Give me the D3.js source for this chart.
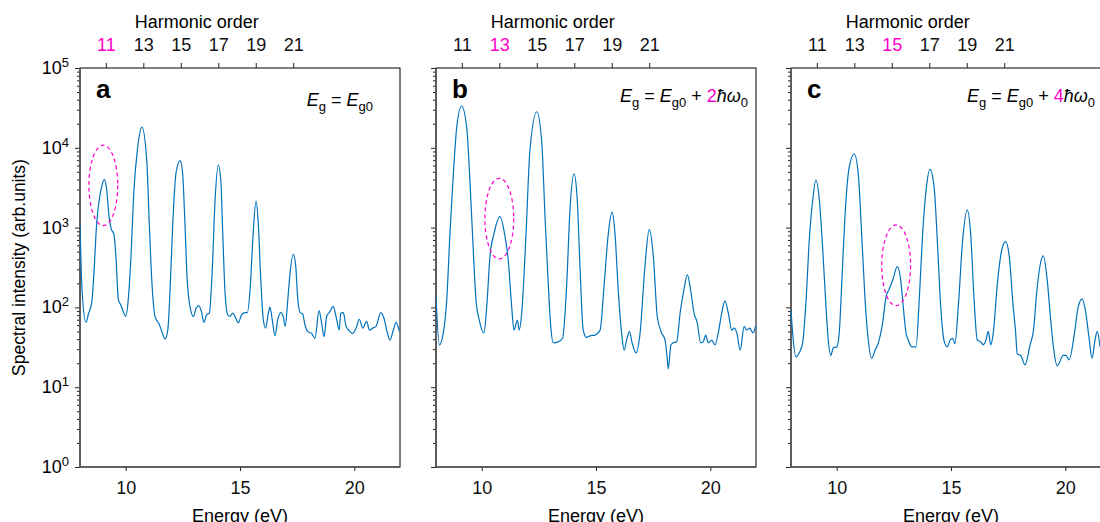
<!DOCTYPE html>
<html>
<head>
<meta charset="utf-8">
<script src="https://cdn.jsdelivr.net/npm/d3@7/dist/d3.min.js"></script>
<style>
  body { margin: 0; background: #fff; }
  svg { font-family: "Liberation Sans", Arial, Helvetica, sans-serif; }
</style>
</head>
<body>
<svg id="chart" width="1100" height="522"></svg>
<script>
// spectra (energy in eV, intensity in arb. units)
const energyA = [8.00,8.09,8.26,8.38,8.51,8.61,8.73,8.84,8.95,9.06,9.17,9.27,9.36,9.49,9.58,9.68,9.78,9.89,10.00,10.11,
  10.23,10.36,10.51,10.71,10.92,11.03,11.14,11.28,11.47,11.60,11.72,11.84,11.94,12.06,12.20,12.38,12.49,12.59,12.69,12.81,
  12.96,13.08,13.19,13.31,13.42,13.54,13.66,13.78,13.91,14.05,14.16,14.24,14.34,14.46,14.56,14.68,14.78,14.93,15.07,15.22,
  15.32,15.44,15.56,15.70,15.80,15.91,16.02,16.12,16.24,16.31,16.41,16.53,16.65,16.78,16.89,16.98,17.09,17.19,17.33,17.44,
  17.52,17.63,17.74,17.84,17.96,18.14,18.28,18.46,18.57,18.68,18.79,18.94,19.08,19.23,19.34,19.41,19.52,19.64,19.78,19.93,
  20.08,20.22,20.37,20.54,20.66,20.81,20.95,21.16,21.30,21.42,21.56,21.71,21.83,21.97];
const intensityA = [1080,165,65,85,113,270,1140,2220,3260,4030,2960,1370,980,810,393,124,108,89,77,124,
  432,2960,9380,18200,7030,1140,220,77,61,48,40,52,165,1140,4830,6890,4790,1140,220,103,
  77,98,105,89,65,81,85,270,2220,6090,3950,933,165,81,77,85,77,64,81,86,
  86,165,700,2150,1130,220,70,55,85,101,70,44,70,86,77,58,124,267,467,324,
  137,86,83,61,50,47,41,91,64,43,77,89,103,70,52,85,86,58,51,47,
  55,71,55,67,52,55,58,86,73,52,39,52,65,50];

const energyB = [8.00,8.15,8.32,8.47,8.61,8.76,8.91,9.12,9.34,9.49,9.63,9.75,9.89,10.10,10.22,10.36,10.54,10.80,11.02,11.16,
  11.31,11.41,11.56,11.64,11.75,11.94,12.11,12.41,12.62,12.77,12.91,13.02,13.13,13.35,13.54,13.72,13.86,14.04,14.18,14.30,
  14.44,14.59,14.74,14.96,15.18,15.35,15.54,15.70,15.83,15.98,16.12,16.23,16.34,16.46,16.58,16.75,16.93,17.14,17.33,17.51,
  17.68,17.87,18.02,18.11,18.16,18.28,18.38,18.53,18.68,18.82,19.00,19.14,19.29,19.43,19.58,19.69,19.80,19.91,20.06,20.21,
  20.35,20.50,20.64,20.79,20.94,21.04,21.16,21.31,21.48,21.60,21.72,21.87,21.98];
const intensityB = [137,34,48,124,849,4790,18400,33400,18400,3590,524,124,70,48,103,432,849,1370,769,393,
  103,52,69,52,85,849,9380,28300,12500,1370,200,58,36,37,41,200,1660,4700,2220,324,
  52,42,44,45,52,182,849,1560,849,151,48,29,39,50,36,27,48,324,952,432,
  77,48,39,24,17,34,36,37,85,151,255,165,85,64,36,37,45,36,39,34,
  48,85,121,85,52,55,48,29,58,52,55,48,58];

const energyC = [8.00,8.07,8.22,8.36,8.51,8.66,8.80,8.95,9.09,9.24,9.39,9.53,9.63,9.74,9.85,10.00,10.11,10.22,10.36,10.55,
  10.77,10.94,11.09,11.24,11.38,11.53,11.68,11.82,12.01,12.16,12.30,12.45,12.65,12.80,12.91,13.03,13.13,13.28,13.47,13.61,
  13.76,13.91,14.08,14.26,14.40,14.55,14.69,14.84,14.96,15.07,15.17,15.32,15.51,15.71,15.86,16.01,16.15,16.30,16.41,16.53,
  16.63,16.74,16.85,17.03,17.22,17.39,17.55,17.72,17.82,17.90,18.05,18.24,18.46,18.61,18.76,18.90,19.04,19.21,19.36,19.48,
  19.65,19.91,20.03,20.17,20.38,20.57,20.74,20.90,21.05,21.17,21.30,21.40,21.52];
const intensityC = [93,48,24,27,36,124,700,2220,3950,2220,524,103,39,25,31,32,48,200,1370,5800,
  8360,4790,849,124,39,23,29,36,64,137,170,220,324,220,103,48,39,32,32,124,
  849,2960,5380,3260,700,103,39,32,39,41,35,103,700,1660,849,124,39,37,34,39,
  50,34,48,200,524,666,432,103,52,26,25,19,34,52,165,340,441,220,70,32,
  18.5,25,25,22,43,103,128,85,39,23,39,50,32];

// axes
const energyDomain = [8, 22];
const energyTicks = [10, 15, 20];
const intensityDomain = [1, 1e5];
const decadeExponents = [0, 1, 2, 3, 4, 5];
const harmonicDomain = [9.62, 26.7];
const harmonicOrders = [11, 13, 15, 17, 19, 21];
const highlightedOrder = [11, 13, 15];
const gapSteps = ["0", "2", "4"];

// dashed rings around the suppressed harmonic
const ringEnergy = [9.02, 10.77, 12.6];
const ringLow = [1060, 405, 105];
const ringHigh = [10800, 4150, 1080];
const ringHalfWidth = 0.63;

const lineColor = "#0072BD";
const pink = "#ff00cc";

const panelLeft = [80, 436, 791];
const panelTop = 68, panelW = 320, panelH = 399;
const letters = ["a", "b", "c"];
const series = [[energyA, intensityA], [energyB, intensityB], [energyC, intensityC]];
const labelEnd = [293, 312, 304];
const labelBase = [38, 34, 34];

const svg = d3.select("#chart");

const x = d3.scaleLinear().domain(energyDomain).range([0, panelW]);
const y = d3.scaleLog().domain(intensityDomain).range([panelH, 0]);
const xTop = d3.scaleLinear().domain(harmonicDomain).range([0, panelW]);

const minorTicks = [];
decadeExponents.slice(0, -1).forEach(e => {
  for (let k = 2; k < 10; k++) minorTicks.push(k * Math.pow(10, e));
});

function styleAxis(g) {
  g.attr("font-size", 18).attr("font-family", null);
  g.select(".domain").remove();
  g.selectAll("line").attr("stroke", "#222");
  g.selectAll("text").attr("fill", "#111");
}

series.forEach((s, i) => {
  const g = svg.append("g").attr("transform", `translate(${panelLeft[i]},${panelTop})`);
  const data = s[0].map((e, j) => [e, s[1][j]]);

  g.append("clipPath").attr("id", `clip-${i}`)
    .append("rect").attr("width", panelW).attr("height", panelH);

  // frame
  g.append("rect")
    .attr("width", panelW).attr("height", panelH)
    .attr("fill", "none").attr("stroke", "#000").attr("stroke-width", 1);

  // y axis ticks
  g.append("g")
    .call(d3.axisLeft(y).tickValues(minorTicks).tickSize(3).tickFormat(""))
    .call(styleAxis);
  g.append("g")
    .call(d3.axisLeft(y).tickValues(decadeExponents.map(e => Math.pow(10, e))).tickSize(5).tickFormat(""))
    .call(styleAxis);

  // bottom axis
  g.append("g")
    .attr("transform", `translate(0,${panelH})`)
    .call(d3.axisBottom(x).tickValues(energyTicks).tickSize(4).tickPadding(10).tickFormat(d3.format("d")))
    .call(styleAxis);

  // top axis: harmonic order
  const tg = g.append("g")
    .call(d3.axisTop(xTop).tickValues(harmonicOrders).tickSize(5).tickPadding(12))
    .call(styleAxis);
  tg.selectAll("text").attr("fill", d => d === highlightedOrder[i] ? pink : "#111");

  // left and bottom spines in grey
  g.append("path")
    .attr("d", `M0,0V${panelH}H${panelW}`)
    .attr("fill", "none").attr("stroke", "#555").attr("stroke-width", 1.6);

  g.append("text")
    .attr("x", xTop(15.85)).attr("y", -40)
    .attr("text-anchor", "middle").attr("font-size", 18)
    .text("Harmonic order");

  // the reference crops this title at the bottom edge
  g.append("text")
    .attr("x", panelW / 2).attr("y", 454)
    .attr("text-anchor", "middle").attr("font-size", 18)
    .text("Energy (eV)");

  // spectrum
  const line = d3.line()
    .x(d => x(d[0]))
    .y(d => y(d[1]))
    .curve(d3.curveMonotoneX);

  g.append("path")
    .datum(data)
    .attr("clip-path", `url(#clip-${i})`)
    .attr("fill", "none")
    .attr("stroke", lineColor)
    .attr("stroke-width", 1.2)
    .attr("d", line);

  // dashed ring
  const yHi = y(ringHigh[i]), yLo = y(ringLow[i]);
  g.append("ellipse")
    .attr("cx", x(ringEnergy[i]))
    .attr("cy", (yHi + yLo) / 2)
    .attr("rx", x(ringEnergy[i] + ringHalfWidth) - x(ringEnergy[i]))
    .attr("ry", (yLo - yHi) / 2)
    .attr("fill", "none")
    .attr("stroke", pink)
    .attr("stroke-width", 1.2)
    .attr("stroke-dasharray", "4,3");

  // panel letter
  g.append("text")
    .attr("x", 16).attr("y", 29.5)
    .attr("font-size", 26).attr("font-weight", "bold")
    .text(letters[i]);

  // band-gap label
  const parts = [["E", "i"], ["g", "sub"], [" = ", ""], ["E", "i"], ["g0", "sub"]];
  if (i > 0) parts.push([" + ", ""], [gapSteps[i], "pink"], ["\u0127\u03c9", "i"], ["0", "sub"]);
  const t = g.append("text")
    .attr("x", labelEnd[i]).attr("y", labelBase[i])
    .attr("text-anchor", "end").attr("font-size", 18)
    .style("white-space", "pre");
  let shifted = false;
  parts.forEach(p => {
    const sp = t.append("tspan").text(p[0]);
    if (p[1] === "sub") {
      sp.attr("font-size", 13).attr("dy", shifted ? 0 : 5);
      shifted = true;
    } else {
      if (shifted) sp.attr("dy", -5);
      shifted = false;
      if (p[1] === "i") sp.attr("font-style", "italic");
      if (p[1] === "pink") sp.attr("fill", pink);
    }
  });

  // decade labels on the first panel only
  if (i === 0) {
    decadeExponents.forEach(e => {
      const lt = g.append("text")
        .attr("x", -11).attr("y", y(Math.pow(10, e)) + 6)
        .attr("text-anchor", "end").attr("font-size", 18);
      lt.append("tspan").text("10");
      lt.append("tspan").attr("dy", -7).attr("font-size", 13).text(e);
    });

    g.append("text")
      .attr("transform", `translate(-55,${panelH / 2}) rotate(-90)`)
      .attr("text-anchor", "middle").attr("font-size", 17.5)
      .text("Spectral intensity (arb.units)");
  }
});
</script>
</body>
</html>
